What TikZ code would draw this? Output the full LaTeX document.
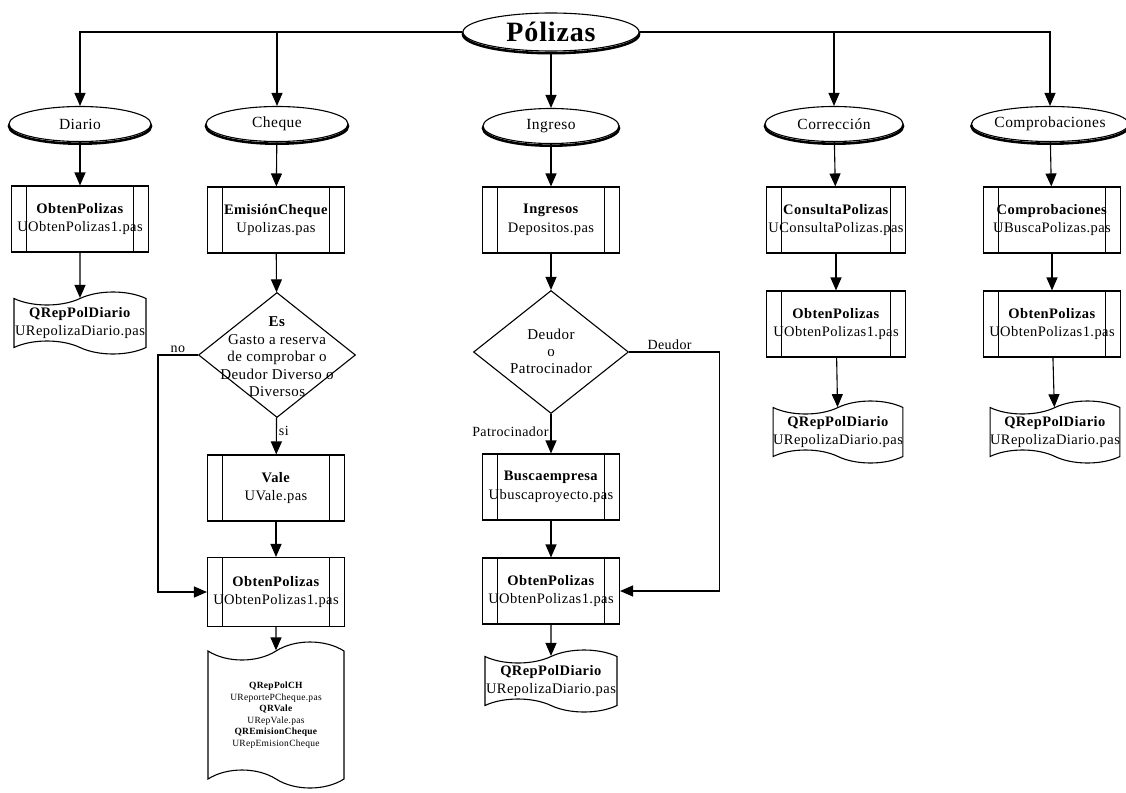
\documentclass[tikz,border=0pt]{standalone}
\usepackage{fontspec}
\setmainfont[LetterSpace=3]{Liberation Serif}
\usetikzlibrary{shapes.geometric,shapes.symbols,arrows.meta}

\begin{document}
\begin{tikzpicture}[x=1pt,y=-1pt,line width=1.1pt,
  arr/.style={-{Triangle[length=13pt,width=11pt]}},
  term/.style={ellipse, draw, fill=white, inner sep=0pt, minimum width=142pt, minimum height=35pt,
    font=\fontsize{15.5}{17}\selectfont,
    preaction={draw, line width=2.6pt, transform canvas={yshift=-2.2pt}}},
  proc/.style={draw, fill=white, inner sep=0pt, minimum width=137pt, minimum height=66pt, align=center,
    font=\fontsize{14.5}{18.5}\selectfont,
    path picture={
      \draw ([xshift=15pt]path picture bounding box.north west) -- ([xshift=15pt]path picture bounding box.south west);
      \draw ([xshift=-15pt]path picture bounding box.north east) -- ([xshift=-15pt]path picture bounding box.south east);}},
  deci/.style={diamond, draw, fill=white, inner sep=0pt, minimum width=157pt, minimum height=125pt},
  repo/.style={tape, draw, fill=white, tape bend top=in and out, tape bend bottom=out and in, tape bend height=13pt,
    minimum width=132pt, minimum height=62pt, inner sep=0pt, align=center, font=\fontsize{14.5}{18.5}\selectfont},
  lbl/.style={inner sep=2pt, font=\fontsize{14}{15}\selectfont}]

\useasboundingbox (0,0) rectangle (1126,792);

% raiz
\node[term, minimum width=176pt, minimum height=38pt, font=\fontsize{28}{30}\selectfont\bfseries] (pol) at (551,32) {Pólizas};

% tipos de poliza
\node[term] (diario) at (80,124) {Diario};
\node[term] (cheque) at (277,124) {Cheque};
\node[term, minimum width=136pt] (ingreso) at (551,126) {Ingreso};
\node[term, minimum width=138pt] (correc) at (834,124) {Corrección};
\node[term, minimum width=138pt] (compro) at (1050,124) {Comprobaciones};

% Diario
\node[proc] (dobt) at (80,219) {\textbf{ObtenPolizas}\\UObtenPolizas1.pas};
\node[repo] (drep) at (80,323) {\textbf{QRepPolDiario}\\URepolizaDiario.pas};

% Cheque
\node[proc] (emis) at (276,220) {\textbf{EmisiónCheque}\\Upolizas.pas};
\node[deci] (esgasto) at (277,355) {};
\node[align=center, font=\fontsize{15}{17.5}\selectfont] (esgastotxt) at (277,357)
  {\textbf{Es}\\Gasto a reserva\\de comprobar o\\Deudor Diverso o\\Diversos};
\node[proc] (vale) at (276,488) {\textbf{Vale}\\UVale.pas};
\node[proc, minimum height=69pt] (chobt) at (276,592) {\textbf{ObtenPolizas}\\UObtenPolizas1.pas};
\node[repo, minimum width=136pt, minimum height=146pt, tape bend height=18pt, font=\fontsize{9.5}{11.5}\selectfont] (chrep) at (276,715)
  {\textbf{QRepPolCH}\\UReportePCheque.pas\\\textbf{QRVale}\\URepVale.pas\\\textbf{QREmisionCheque}\\URepEmisionCheque};

% Ingreso
\node[proc] (ingr) at (551,220) {\textbf{Ingresos}\\Depositos.pas};
\node[deci, minimum width=155pt, minimum height=123pt] (deudor) at (551,352) {};
\node[align=center, font=\fontsize{15}{17}\selectfont] (deudortxt) at (551,351) {Deudor\\o\\Patrocinador};
\node[proc] (busca) at (551,487) {\textbf{Buscaempresa}\\Ubuscaproyecto.pas};
\node[proc] (iobt) at (551,591) {\textbf{ObtenPolizas}\\UObtenPolizas1.pas};
\node[repo] (irep) at (551,681) {\textbf{QRepPolDiario}\\URepolizaDiario.pas};

% Correccion
\node[proc, minimum width=139pt] (consul) at (836,220) {\textbf{ConsultaPolizas}\\UConsultaPolizas.pas};
\node[proc, minimum width=139pt] (cobt) at (836,324) {\textbf{ObtenPolizas}\\UObtenPolizas1.pas};
\node[repo, minimum width=128pt] (crep) at (838,432) {\textbf{QRepPolDiario}\\URepolizaDiario.pas};

% Comprobaciones
\node[proc] (comp) at (1052,220) {\textbf{Comprobaciones}\\UBuscaPolizas.pas};
\node[proc] (pobt) at (1052,324) {\textbf{ObtenPolizas}\\UObtenPolizas1.pas};
\node[repo, minimum width=128pt] (prep) at (1055,432) {\textbf{QRepPolDiario}\\URepolizaDiario.pas};

% conexiones
\draw[arr] (pol.west) -| (diario);
\draw[arr] (pol.west -| cheque) -- (cheque);
\draw[arr] (pol) -- (ingreso);
\draw[arr] (pol.east) -| (compro);
\draw[arr] (pol.east -| correc) -- (correc);

\foreach \a/\b in {diario/dobt, dobt/drep, cheque/emis, emis/esgasto, vale/chobt, chobt/chrep,
  ingreso/ingr, ingr/deudor, busca/iobt, iobt/irep,
  correc/consul, consul/cobt, cobt/crep, compro/comp, comp/pobt, pobt/prep}
  \draw[arr] (\a) -- (\b);

\draw[arr] (esgasto) -- node[lbl, right, pos=0.35] {si} (vale);
\draw[arr] (esgasto.west) -- ++(-40,0) node[lbl, above, pos=0.5] {no} |- (chobt.west);
\draw[arr] (deudor) -- node[lbl, left, pos=0.45] {Patrocinador} (busca);
\draw[arr] (deudor.east) -- ++(90,0) node[lbl, above, pos=0.45] {Deudor} |- (iobt.east);

\end{tikzpicture}
\end{document}
